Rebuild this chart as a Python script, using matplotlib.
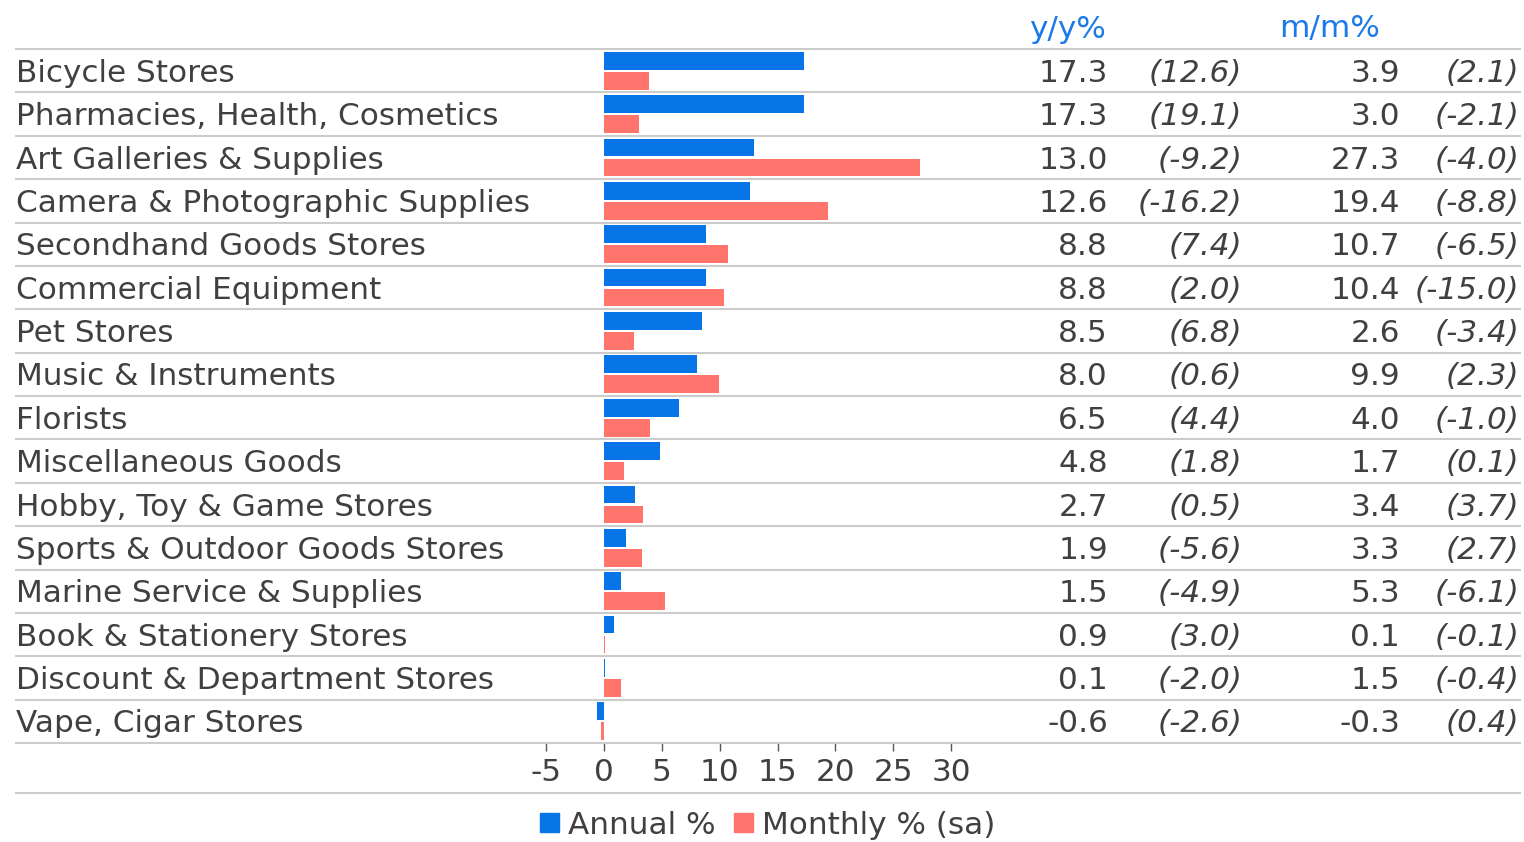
import matplotlib.pyplot as plt
import matplotlib.transforms as mtransforms
from matplotlib.lines import Line2D
from matplotlib.patches import Patch

plt.rcParams['font.family'] = ['DejaVu Sans']

categories = ['Bicycle Stores', 'Pharmacies, Health, Cosmetics', 'Art Galleries & Supplies',
              'Camera & Photographic Supplies', 'Secondhand Goods Stores', 'Commercial Equipment',
              'Pet Stores', 'Music & Instruments', 'Florists', 'Miscellaneous Goods',
              'Hobby, Toy & Game Stores', 'Sports & Outdoor Goods Stores', 'Marine Service & Supplies',
              'Book & Stationery Stores', 'Discount & Department Stores', 'Vape, Cigar Stores']
annual = [17.3, 17.3, 13.0, 12.6, 8.8, 8.8, 8.5, 8.0, 6.5, 4.8, 2.7, 1.9, 1.5, 0.9, 0.1, -0.6]
annual_prev = [12.6, 19.1, -9.2, -16.2, 7.4, 2.0, 6.8, 0.6, 4.4, 1.8, 0.5, -5.6, -4.9, 3.0, -2.0, -2.6]
monthly = [3.9, 3.0, 27.3, 19.4, 10.7, 10.4, 2.6, 9.9, 4.0, 1.7, 3.4, 3.3, 5.3, 0.1, 1.5, -0.3]
monthly_prev = [2.1, -2.1, -4.0, -8.8, -6.5, -15.0, -3.4, 2.3, -1.0, 0.1, 3.7, 2.7, -6.1, -0.1, -0.4, 0.4]
xticks = [-5, 0, 5, 10, 15, 20, 25, 30]

W, H = 1524, 842
blue = '#0774e8'
red = '#ff746c'
txt = '#404040'
grid = '#cccccc'
fs = 22.4

fig = plt.figure(figsize=(W / 100, H / 100), dpi=100)

# bar axes: x=0 at px 604, 11.567 px per unit
px_per = 11.567
x0, x1 = -6, 33
left_px = 604 + x0 * px_per
right_px = 604 + x1 * px_per
top_px, bot_px = 49, 743
ax = fig.add_axes([left_px / W, 1 - bot_px / H, (right_px - left_px) / W, (bot_px - top_px) / H])

n = len(categories)
ys = list(range(n))
ax.barh([y - 0.23 for y in ys], annual, height=0.41, color=blue)
ax.barh([y + 0.23 for y in ys], monthly, height=0.41, color=red)
ax.set_xlim(x0, x1)
ax.set_ylim(n - 0.5, -0.5)
ax.set_yticks([])
ax.set_xticks(xticks)
ax.set_xticklabels([str(t) for t in xticks])
ax.tick_params(axis='x', length=6, width=1, color='#555555', labelsize=fs,
               labelcolor=txt, pad=5)
for s in ax.spines.values():
    s.set_visible(False)
ax.patch.set_alpha(0)

tr = mtransforms.blended_transform_factory(fig.transFigure, ax.transData)
lx0, lx1 = 16 / W, 1520 / W
for i in range(n + 1):
    ax.add_line(Line2D([lx0, lx1], [i - 0.5, i - 0.5], transform=tr, color=grid,
                       lw=1.5, clip_on=False))
fig.add_artist(Line2D([lx0, lx1], [1 - 793 / H] * 2, transform=fig.transFigure,
                      color=grid, lw=1.5))

dy = 0.06  # nudge text down slightly within each row
for i in range(n):
    y = i + dy
    ax.text(16 / W, y, categories[i], transform=tr, ha='left', va='center',
            fontsize=fs, color=txt)
    ax.text(1108 / W, y, f'{annual[i]:.1f}', transform=tr, ha='right', va='center',
            fontsize=fs, color=txt)
    ax.text(1242 / W, y, f'({annual_prev[i]:.1f})', transform=tr, ha='right', va='center',
            fontsize=fs, color=txt, style='italic')
    ax.text(1400 / W, y, f'{monthly[i]:.1f}', transform=tr, ha='right', va='center',
            fontsize=fs, color=txt)
    ax.text(1519 / W, y, f'({monthly_prev[i]:.1f})', transform=tr, ha='right', va='center',
            fontsize=fs, color=txt, style='italic')

fig.text(1067 / W, 1 - 29 / H, 'y/y%', ha='center', va='center', fontsize=fs, color='#1a7ae8')
fig.text(1330 / W, 1 - 29 / H, 'm/m%', ha='center', va='center', fontsize=fs, color='#1a7ae8')

handles = [Patch(color=blue, label='Annual %'), Patch(color=red, label='Monthly % (sa)')]
leg = fig.legend(handles=handles, loc='center', bbox_to_anchor=(768 / W, 1 - 825 / H),
                 ncol=2, frameon=False, fontsize=fs, handlelength=0.6, handleheight=0.6,
                 handletextpad=0.3, columnspacing=0.6, borderaxespad=0)
for t in leg.get_texts():
    t.set_color(txt)

fig.savefig('out.png', dpi=100)
